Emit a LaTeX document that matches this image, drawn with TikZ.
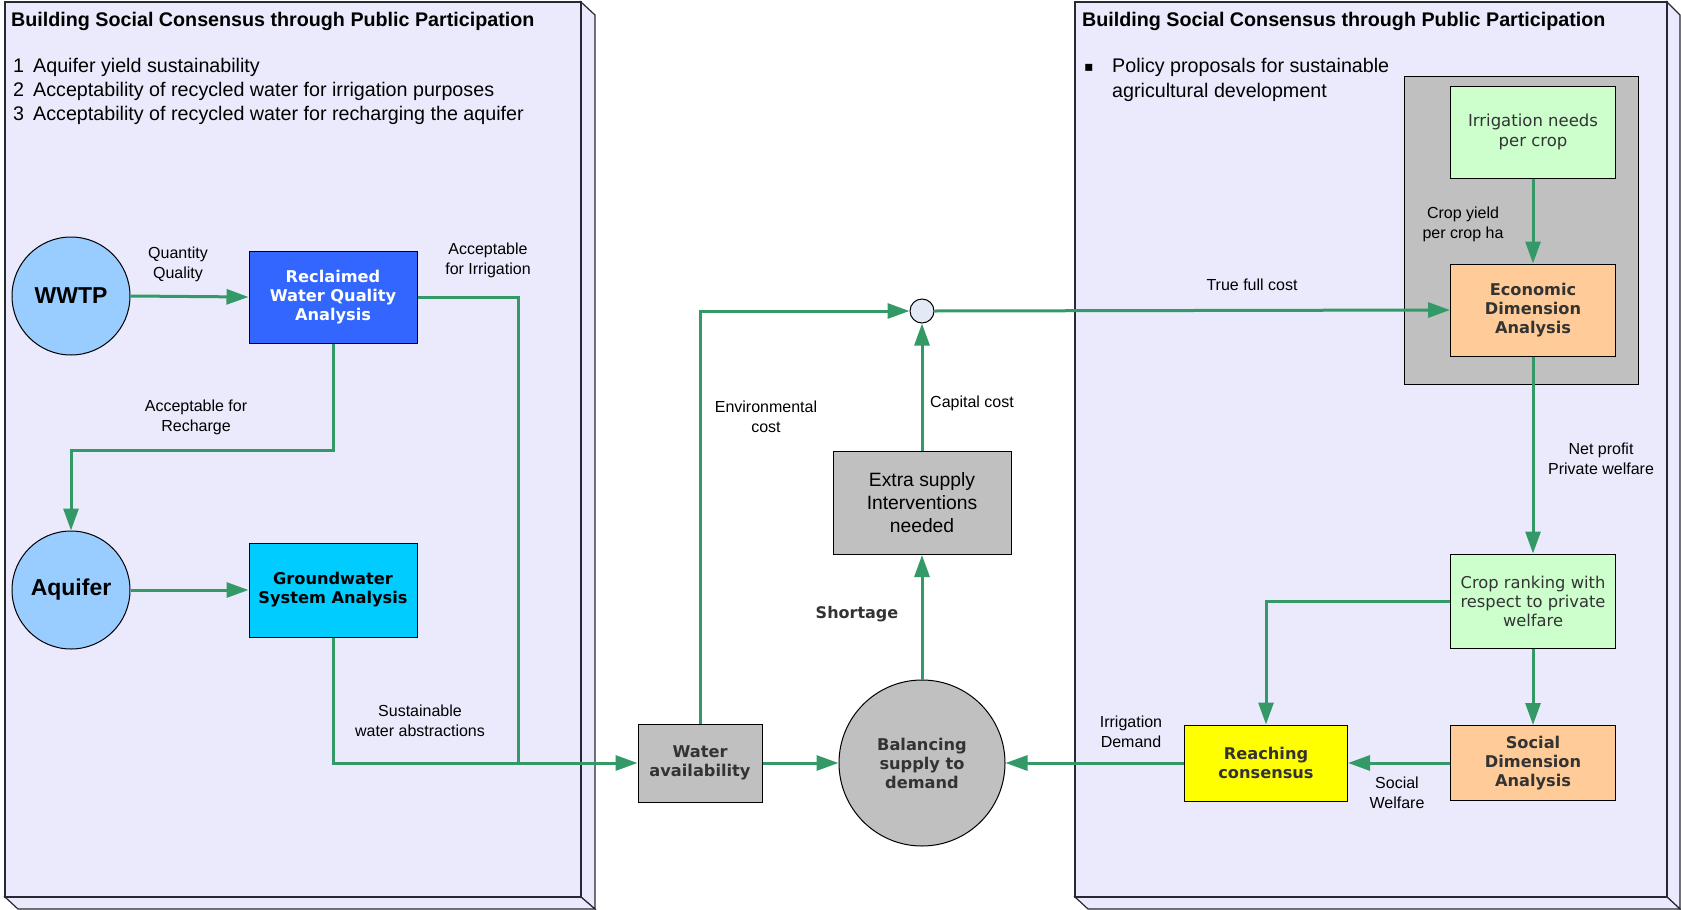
\documentclass[tikz,border=0pt]{standalone}
\usepackage{fontspec}
\setmainfont{Liberation Sans}
\newfontfamily\vfont{DejaVu Sans}
\usetikzlibrary{arrows.meta}

\definecolor{panelfill}{RGB}{234,234,252}
\definecolor{paneledge}{RGB}{40,40,50}
\definecolor{flowgreen}{RGB}{51,153,102}
\definecolor{skyblue}{RGB}{153,204,255}
\definecolor{royal}{RGB}{51,102,255}
\definecolor{cyanbox}{RGB}{0,204,255}
\definecolor{greybox}{RGB}{192,192,192}
\definecolor{mint}{RGB}{204,255,204}
\definecolor{peach}{RGB}{255,204,153}
\definecolor{lemon}{RGB}{255,255,0}
\definecolor{junction}{RGB}{226,234,246}
\definecolor{darktext}{RGB}{51,51,51}

\tikzset{
  flowline/.style={draw=flowgreen, line width=3pt},
  flow/.style={flowline, -{Triangle[length=22pt,width=15pt]}},
  shapebox/.style={draw=black, line width=1pt, inner sep=0pt, align=center},
  circ/.style={shapebox, circle},
  lbl/.style={font=\fontsize{16}{20}\selectfont, align=center, inner sep=0pt},
  vbold/.style={font=\vfont\bfseries\fontsize{16.2}{19}\selectfont, text=darktext},
  vreg/.style={font=\vfont\fontsize{16.5}{20}\selectfont, text=darktext},
  headline/.style={font=\bfseries\fontsize{19.7}{22}\selectfont, anchor=base west, inner sep=0pt},
  listtext/.style={font=\fontsize{19.7}{22}\selectfont, anchor=base west, inner sep=0pt},
}

\begin{document}
\begin{tikzpicture}[x=1pt,y=-1pt]
\useasboundingbox (0,0) rectangle (1681,910);

% ---- left 3D panel ----
\filldraw[fill=panelfill, draw=paneledge, line width=1.2pt] (581,2) -- (595,15) -- (595,909) -- (581,897) -- cycle;
\filldraw[fill=panelfill, draw=paneledge, line width=1.2pt] (5,897) -- (581,897) -- (595,909) -- (18,909) -- cycle;
\filldraw[fill=panelfill, draw=paneledge, line width=1.2pt] (5,2) rectangle (581,897);

% ---- right 3D panel ----
\filldraw[fill=panelfill, draw=paneledge, line width=1.2pt] (1667,2) -- (1680,15) -- (1680,909) -- (1667,897) -- cycle;
\filldraw[fill=panelfill, draw=paneledge, line width=1.2pt] (1075,897) -- (1667,897) -- (1680,909) -- (1088,909) -- cycle;
\filldraw[fill=panelfill, draw=paneledge, line width=1.2pt] (1075,2) rectangle (1667,897);

% ---- panel headings and lists ----
\node[headline] (titleL) at (11,26) {Building Social Consensus through Public Participation};
\node[listtext] (n1) at (13,72) {1};
\node[listtext] (t1) at (33,72) {Aquifer yield sustainability};
\node[listtext] (n2) at (13,96) {2};
\node[listtext] (t2) at (33,96) {Acceptability of recycled water for irrigation purposes};
\node[listtext] (n3) at (13,120) {3};
\node[listtext] (t3) at (33,120) {Acceptability of recycled water for recharging the aquifer};

\node[headline] (titleR) at (1082,26) {Building Social Consensus through Public Participation};
\node[listtext, font=\vfont\fontsize{14}{18}\selectfont] (bul) at (1084,71) {▪};
\node[listtext, anchor=north west, align=left, font=\fontsize{19.7}{25}\selectfont] (pol) at (1112,58)
  {Policy proposals for sustainable\\agricultural development};

% ---- grey group behind the economic block ----
\node[draw=black, line width=1pt, fill=greybox, minimum width=234pt, minimum height=308pt, inner sep=0pt] (econgroup) at (1521,230) {};

% ---- nodes ----
\node[circ, fill=skyblue, minimum size=118pt, font=\bfseries\fontsize{23}{26}\selectfont] (wwtp) at (71,296) {WWTP};
\node[shapebox, fill=royal, minimum width=168pt, minimum height=92pt, vbold, text=white] (reclaimed) at (333,297) {Reclaimed\\Water Quality\\Analysis};
\node[circ, fill=skyblue, minimum size=118pt, font=\bfseries\fontsize{23}{26}\selectfont] (aquifer) at (71,590) {Aquifer};
\node[shapebox, fill=cyanbox, minimum width=168pt, minimum height=94pt, vbold, text=black] (gw) at (333,590) {Groundwater\\System Analysis};

\node[shapebox, fill=greybox, minimum width=124pt, minimum height=78pt, vbold] (water) at (700,763) {Water\\availability};
\node[circ, fill=greybox, minimum size=166pt, vbold] (bal) at (922,763) {Balancing\\supply to\\demand};
\node[shapebox, fill=greybox, minimum width=178pt, minimum height=103pt, font=\fontsize{19.3}{23}\selectfont] (extra) at (922,503) {Extra supply\\Interventions\\needed};
\node[circ, fill=junction, minimum size=24pt] (junc) at (922,311) {};

\node[shapebox, fill=mint, minimum width=165pt, minimum height=92pt, vreg] (irr) at (1533,132) {Irrigation needs\\per crop};
\node[shapebox, fill=peach, minimum width=165pt, minimum height=92pt, vbold] (econ) at (1533,310) {Economic\\Dimension\\Analysis};
\node[shapebox, fill=mint, minimum width=165pt, minimum height=94pt, vreg, font=\vfont\fontsize{16.3}{19}\selectfont] (rank) at (1533,601) {Crop ranking with\\respect to private\\welfare};
\node[shapebox, fill=peach, minimum width=165pt, minimum height=75pt, vbold] (social) at (1533,763) {Social\\Dimension\\Analysis};
\node[shapebox, fill=lemon, minimum width=163pt, minimum height=76pt, vbold] (reach) at (1266,763) {Reaching\\consensus};

% ---- connectors ----
\coordinate (merge) at (518,763);
\coordinate (rech) at (71,450);
\draw[flow] (wwtp.east) -- (reclaimed.west);
\draw[flowline] (reclaimed.east) -| (merge);
\draw[flow] (reclaimed.south) |- (rech) -- (aquifer.north);
\draw[flow] (aquifer.east) -- (gw.west);
\draw[flow] (gw.south) |- (water.west);
\draw[flow] (water.north) |- (junc.west);
\draw[flow] (water.east) -- (bal.west);
\draw[flow] (bal.north) -- (extra.south);
\draw[flow] (extra.north) -- (junc.south);
\draw[flow] (junc.east) -- (econ.west);
\draw[flow] (irr.south) -- (econ.north);
\draw[flow] (econ.south) -- (rank.north);
\draw[flow] (rank.west) -| (reach.north);
\draw[flow] (rank.south) -- (social.north);
\draw[flow] (social.west) -- (reach.east);
\draw[flow] (reach.west) -- (bal.east);

% ---- connector labels ----
\node[lbl] (lq) at (178,264) {Quantity\\Quality};
\node[lbl] (lirr) at (488,260) {Acceptable\\for Irrigation};
\node[lbl] (lrech) at (196,417) {Acceptable for\\Recharge};
\node[lbl] (lsust) at (420,721) {Sustainable\\water abstractions};
\node[lbl] (lenv) at (766,417) {Environmental\\cost};
\node[lbl] (lcap) at (972,403) {Capital cost};
\node[lbl, font=\vfont\bfseries\fontsize{16}{20}\selectfont, text=darktext] (lshort) at (857,614) {Shortage};
\node[lbl] (ltfc) at (1252,285) {True full cost};
\node[lbl] (lyield) at (1463,224) {Crop yield\\per crop ha};
\node[lbl] (lnet) at (1601,459) {Net profit\\Private welfare};
\node[lbl] (ldem) at (1131,732) {Irrigation\\Demand};
\node[lbl] (lsw) at (1397,793) {Social\\Welfare};
\end{tikzpicture}
\end{document}
